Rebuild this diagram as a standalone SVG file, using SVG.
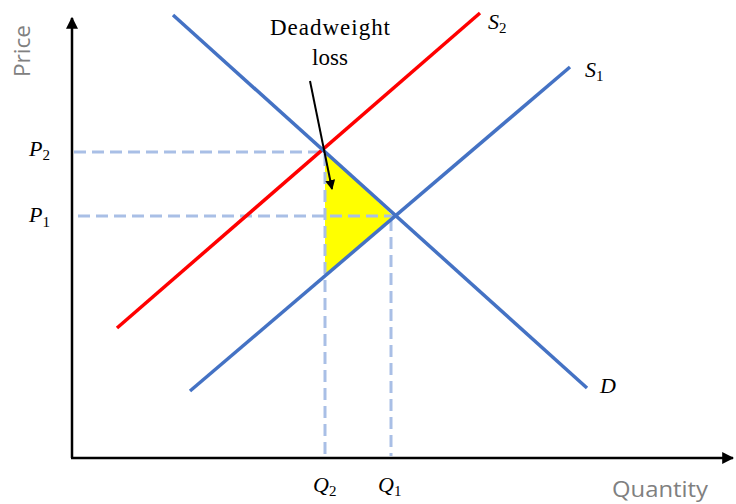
<svg xmlns="http://www.w3.org/2000/svg" width="736" height="504" viewBox="0 0 736 504">
<style>
.axis{stroke:#000;stroke-width:2.5;fill:none}
.dash{stroke:#A9BFE6;stroke-width:3;stroke-dasharray:12 6;fill:none}
.blue{stroke:#4472C4;stroke-width:3.5;fill:none}
.red{stroke:#FF0000;stroke-width:3.5;fill:none}
.math{font-family:"Liberation Serif",serif;font-style:italic;font-size:22px;fill:#000}
.sub{font-size:15px;font-style:normal}
.lab{font-family:"Open Sans","Liberation Sans",sans-serif;font-size:22px;fill:#808080}
.note{font-family:"Liberation Serif",serif;font-size:23px;fill:#000;text-anchor:middle}
</style>
<defs>
<marker id="ah" viewBox="0 0 10 10" refX="9" refY="5" markerWidth="10" markerHeight="10" markerUnits="userSpaceOnUse" orient="auto">
<path d="M0,0 L10,5 L0,10 z" fill="#000"/>
</marker>
<marker id="ah2" viewBox="0 0 10 10" refX="9" refY="5" markerWidth="12" markerHeight="12" markerUnits="userSpaceOnUse" orient="auto">
<path d="M0,0 L10,5 L0,10 z" fill="#000"/>
</marker>
</defs>
<rect width="736" height="504" fill="#fff"/>
<g id="dwl-area">
<polygon points="325,152 393,216 325,275" fill="#FFFF00"/>
</g>
<g id="connectors">
<line class="dash" x1="74" y1="152" x2="324" y2="152"/>
<line class="dash" x1="78" y1="216" x2="393" y2="216"/>
<line class="dash" x1="325" y1="154" x2="325" y2="456"/>
<line class="dash" x1="391" y1="219" x2="391" y2="456"/>
<line class="axis" x1="72" y1="458" x2="72" y2="18" marker-end="url(#ah2)"/>
<line class="axis" x1="71" y1="458" x2="733" y2="458" marker-end="url(#ah2)"/>
<line class="red" x1="117" y1="328" x2="480" y2="13"/>
<line class="blue" x1="190" y1="391" x2="570" y2="67"/>
<line class="blue" x1="173" y1="15" x2="587" y2="388"/>
<line x1="310" y1="81" x2="332" y2="189" stroke="#000" stroke-width="2" marker-end="url(#ah)"/>
</g>
<g id="label-price"><text class="lab" transform="translate(30,51) rotate(-90)" text-anchor="middle" textLength="52" lengthAdjust="spacingAndGlyphs">Price</text></g>
<g id="label-quantity"><text class="lab" x="612" y="497" textLength="96" lengthAdjust="spacingAndGlyphs">Quantity</text></g>
<g id="label-dwl">
<text class="note" x="330" y="35" textLength="120">Deadweight</text>
<text class="note" x="330" y="65">loss</text>
</g>
<g id="label-p2"><text class="math" x="29" y="156">P<tspan class="sub" dy="4">2</tspan></text></g>
<g id="label-p1"><text class="math" x="29" y="222">P<tspan class="sub" dy="5">1</tspan></text></g>
<g id="label-q2"><text class="math" x="313" y="492">Q<tspan class="sub" dy="4">2</tspan></text></g>
<g id="label-q1"><text class="math" x="378" y="492">Q<tspan class="sub" dy="4">1</tspan></text></g>
<g id="label-s2"><text class="math" x="488" y="29">S<tspan class="sub" dy="4">2</tspan></text></g>
<g id="label-s1"><text class="math" x="585" y="77">S<tspan class="sub" dy="4">1</tspan></text></g>
<g id="label-d"><text class="math" x="600" y="393">D</text></g>
</svg>
